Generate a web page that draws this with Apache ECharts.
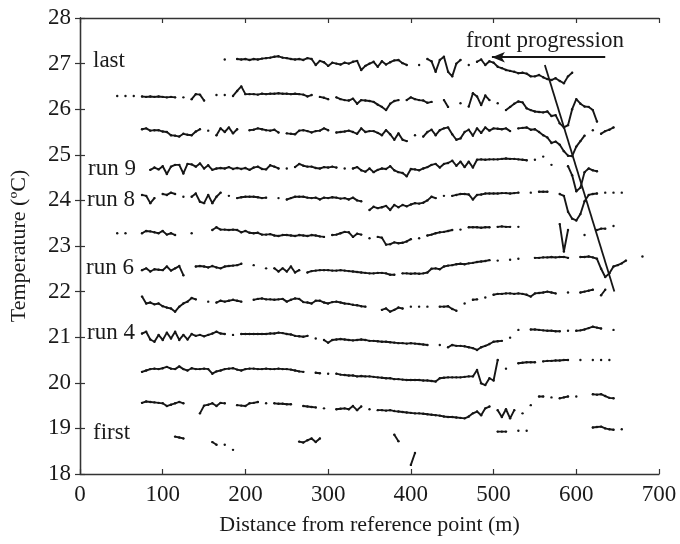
<!DOCTYPE html>
<html>
<head>
<meta charset="utf-8">
<script src="https://cdn.jsdelivr.net/npm/echarts@6/dist/echarts.min.js"></script>
<style>
html,body{margin:0;padding:0;background:#fff;}
#chart{width:680px;height:544px;}
</style>
</head>
<body>
<div id="chart"></div>
<script>
const n = null;
// distance (m) sampling grid
const distance = [40,45,50,55,60,65,70,75,80,85,
90,95,100,105,110,115,120,125,130,135,
140,145,150,155,160,165,170,175,180,185,
190,195,200,205,210,215,220,225,230,235,
240,245,250,255,260,265,270,275,280,285,
290,295,300,305,310,315,320,325,330,335,
340,345,350,355,360,365,370,375,380,385,
390,395,400,405,410,415,420,425,430,435,
440,445,450,455,460,465,470,475,480,485,
490,495,500,505,510,515,520,525,530,535,
540,545,550,555,560,565,570,575,580,585,
590,595,600,605,610,615,620,625,630,635,
640,645,650,655,660,665,670,675,680];

// temperature (°C) of each run, aligned to distance; null = no reading
const run12 = [n,n,n,n,n,n,n,n,n,n,
n,n,n,n,n,n,n,n,n,n,
n,n,n,n,n,n,n,27.09,n,n,
27.10,27.09,27.10,27.08,27.10,27.09,27.11,27.12,27.13,27.15,
27.16,27.13,27.12,27.10,27.09,27.10,27.08,27.12,27.10,26.97,
27.06,27.03,26.95,27.02,27.00,26.98,27.02,27.00,27.04,27.06,
26.86,26.95,27.00,27.04,26.93,27.05,26.98,27.03,27.07,27.08,
27.01,26.97,n,n,26.97,n,27.10,27.05,26.82,27.08,
27.15,26.82,26.72,27.00,27.08,n,26.97,n,27.04,27.09,
26.97,27.05,27.02,26.93,26.90,26.86,26.84,26.82,26.79,26.80,
26.78,26.72,26.72,26.75,26.70,26.66,26.64,26.68,26.62,26.57,
26.72,26.80,n,n,n,n,n,n,n,n,
n,n,n,n,n,n,n,n,n];

const run11 = [n,26.29,n,26.29,n,26.29,n,26.28,26.27,26.28,
26.27,26.28,26.27,26.26,26.27,26.26,n,26.26,n,26.22,
26.33,26.32,26.19,n,n,26.31,n,26.31,n,26.29,
26.40,26.50,26.33,26.33,26.33,26.32,26.34,26.33,26.34,26.34,
26.35,26.34,26.34,26.33,26.34,26.33,26.32,26.28,26.31,n,
26.27,26.25,26.22,n,26.26,26.22,26.20,26.19,26.23,26.12,
26.20,26.19,26.18,26.16,26.10,26.05,25.98,26.12,26.18,26.20,
n,26.20,26.26,26.22,26.20,26.19,26.14,26.16,n,n,
26.20,26.05,n,n,26.13,n,26.06,26.35,26.28,26.09,
26.30,26.20,n,26.13,n,25.98,26.05,26.12,26.17,26.15,
26.02,25.98,25.95,25.94,25.93,25.95,25.85,25.87,25.69,25.60,
25.65,26.00,26.22,26.12,26.06,26.05,25.98,25.73,n,n,
n,n,n,n,n,n,n,n,n];

const run10 = [n,n,n,n,n,n,n,25.56,25.58,25.53,
25.54,25.54,25.51,25.50,25.43,25.42,25.40,25.46,25.44,25.43,
25.51,25.56,n,25.53,n,25.43,25.58,25.50,25.60,25.47,
25.56,n,n,25.54,25.55,25.58,25.56,25.54,25.53,25.55,
25.49,n,25.47,25.46,25.45,25.53,25.54,25.52,25.49,25.52,
25.53,25.58,25.54,n,25.49,25.50,25.51,25.53,25.50,25.46,
25.58,25.50,25.52,25.52,25.48,25.43,25.54,25.45,25.33,25.47,
25.33,25.30,n,25.43,n,25.40,25.50,25.55,25.43,25.54,
25.58,25.60,25.45,25.33,25.36,25.50,25.55,25.42,25.58,25.48,
25.60,25.53,25.58,25.57,25.56,25.58,25.52,n,25.58,25.59,
25.60,25.55,25.56,25.50,25.43,25.38,25.26,25.29,25.22,25.08,
24.98,24.97,25.18,25.30,25.42,n,25.54,n,25.46,25.52,
25.55,25.60,n,n,n,n,n,n,n];

const run9 = [n,n,n,n,n,n,n,n,n,24.67,
24.72,24.68,24.75,24.58,24.74,24.78,24.78,24.59,24.80,24.79,
24.74,24.81,24.70,24.77,24.67,24.70,24.71,24.70,24.73,24.69,
24.71,24.69,24.71,24.67,24.72,24.74,24.69,24.68,24.77,24.74,
24.70,n,24.70,n,24.73,24.80,24.76,24.74,24.74,24.71,
24.70,24.73,24.72,24.74,24.72,n,24.70,n,24.70,24.73,
24.66,24.63,24.70,24.62,24.67,24.70,24.69,24.75,24.66,24.62,
24.60,24.53,24.69,24.68,24.66,24.70,24.73,24.78,24.80,24.72,
24.80,24.82,24.87,24.76,24.85,24.73,24.85,24.72,24.89,24.90,
24.89,24.90,24.90,24.90,24.91,24.92,24.91,24.91,24.90,24.89,
24.88,n,24.89,n,24.96,n,24.78,n,n,n,
24.75,24.55,24.20,24.28,24.62,24.70,24.66,24.64,n,n,
n,n,n,n,n,n,n,n,n];

const run8 = [n,n,n,n,n,n,n,24.12,24.10,23.94,
24.05,n,24.14,24.12,24.17,24.14,n,24.08,n,24.08,
24.15,23.97,23.94,24.12,23.94,24.08,24.17,n,24.10,n,
24.05,24.07,24.08,24.08,24.08,24.07,24.05,24.06,n,n,
24.05,n,24.02,24.05,24.08,24.08,24.08,24.06,24.05,24.06,
24.02,24.06,24.05,24.07,24.06,24.04,24.05,24.02,24.06,24.00,
23.98,n,23.79,23.86,23.83,23.85,23.88,23.79,23.90,23.85,
23.90,23.87,23.91,23.94,23.93,23.95,24.00,24.08,24.05,n,
24.10,n,24.10,24.12,24.14,24.14,24.13,24.02,24.12,24.13,
24.15,24.15,24.15,24.15,24.16,24.16,24.15,24.16,24.17,n,
n,24.17,n,24.19,24.19,24.19,n,n,24.14,24.10,
23.75,23.60,23.56,23.70,23.98,24.12,24.14,24.15,n,24.17,
n,24.17,n,24.17,n,n,n,n,n];

const run7 = [n,23.28,n,23.28,n,n,n,23.28,23.33,23.32,
23.30,23.28,23.33,23.25,23.28,23.24,n,n,n,23.28,
n,n,n,n,23.35,23.41,23.36,23.36,23.35,23.36,
23.35,23.30,23.33,23.29,23.28,23.29,23.25,23.25,23.26,23.23,
23.22,23.24,23.24,23.23,23.22,23.24,23.23,23.22,23.24,23.23,
23.21,23.20,n,23.24,23.25,23.28,23.31,23.30,23.20,23.27,
23.25,n,23.17,n,23.20,23.18,23.03,23.04,23.08,23.06,
23.07,23.10,23.15,n,23.17,n,23.23,23.25,23.28,23.30,
23.31,23.33,23.35,n,23.36,n,23.41,23.41,23.41,23.40,
23.41,23.41,n,23.42,23.43,23.42,23.42,n,23.42,n,
n,n,n,n,n,n,n,n,23.48,22.88,
23.35,n,n,n,23.24,n,n,23.35,23.38,23.38,
n,23.44,n,n,n,n,n,n,n];

const run6 = [n,n,n,n,n,n,n,22.47,22.51,22.44,
22.49,22.48,22.47,22.55,22.46,22.51,22.56,22.36,n,n,
22.55,22.56,22.55,22.53,22.56,22.53,22.51,22.55,22.56,22.57,
22.58,22.61,n,n,22.58,n,n,22.51,n,22.51,
22.44,22.51,22.44,22.55,22.42,22.47,n,22.42,22.45,22.46,
22.47,22.47,22.47,22.46,22.46,22.47,22.46,22.45,22.44,22.43,
22.42,22.41,22.40,22.40,22.41,22.41,22.40,22.37,22.37,n,
22.40,22.40,22.39,22.40,22.39,22.40,22.42,22.50,22.51,22.49,
22.55,22.57,22.58,22.60,22.61,22.60,22.62,22.63,22.65,22.66,
22.67,22.69,n,22.68,n,n,22.70,n,22.72,n,
n,n,22.74,22.74,22.75,22.75,22.76,22.75,22.76,22.76,
22.74,n,n,22.76,22.76,22.77,22.75,22.72,22.50,22.32,
22.40,22.55,22.58,22.62,22.68,n,n,n,22.77];

const run5 = [n,n,n,n,n,n,n,21.89,21.74,21.76,
21.72,21.74,21.68,21.65,21.63,21.56,21.67,21.74,21.78,21.86,
21.83,n,n,21.78,n,21.76,21.80,21.78,21.80,21.82,
21.80,21.78,n,n,21.82,21.84,21.85,21.83,21.83,21.82,
21.83,21.84,21.78,21.82,21.85,21.84,21.77,21.76,21.74,21.80,
21.80,21.76,21.74,21.77,21.78,21.76,21.74,21.73,21.71,21.70,
21.68,21.67,n,n,n,21.60,21.63,21.56,21.60,21.65,
21.63,n,21.67,n,21.67,n,21.67,n,n,21.67,
21.67,21.68,21.62,21.58,n,21.74,n,21.82,21.83,n,
21.87,n,21.93,21.95,21.95,21.96,21.96,21.95,21.96,21.95,
21.93,21.89,21.96,21.97,21.98,22.00,21.98,21.96,n,n,
21.98,n,n,21.98,22.00,22.02,22.04,n,21.92,22.04,
n,n,n,n,n,n,n,n,n];

const run4 = [n,n,n,n,n,n,n,21.08,21.12,20.95,
20.90,21.05,20.94,21.10,20.97,21.12,20.94,21.05,20.95,21.07,
21.03,21.05,21.02,21.05,21.08,21.12,21.08,21.07,n,21.05,
n,21.07,21.07,21.07,21.07,21.07,21.07,21.07,21.08,21.08,
21.10,21.09,21.07,21.06,21.03,21.02,21.01,21.03,n,20.97,
n,20.94,20.88,20.94,20.95,20.96,20.95,20.94,20.93,20.94,
20.95,20.94,20.92,20.92,20.91,20.90,20.90,20.89,20.88,20.87,
20.87,20.86,20.87,20.86,20.85,20.84,20.83,n,n,20.83,
n,20.78,20.83,20.81,20.81,20.80,20.78,20.76,20.72,20.78,
20.81,20.85,20.90,20.91,20.92,n,20.99,n,21.16,n,
n,21.17,21.17,21.16,21.15,21.14,21.14,21.13,21.13,n,
21.14,n,21.14,21.15,21.17,21.20,21.23,21.21,21.19,n,
n,21.16,n,n,n,n,n,n,n];

const run3 = [n,n,n,n,n,n,n,20.24,20.27,20.30,
20.31,20.30,20.32,20.35,20.31,20.30,20.36,20.30,20.27,20.32,
20.30,20.30,20.31,20.30,20.20,20.25,20.27,20.30,20.31,20.32,
20.29,20.27,20.30,20.31,20.31,20.30,20.30,20.31,20.30,20.30,
20.31,20.30,20.30,20.29,20.27,20.25,20.24,n,n,20.22,
20.21,n,20.20,n,20.20,20.18,20.17,20.16,20.16,20.14,
20.15,20.14,20.14,20.13,20.12,20.11,20.10,20.10,20.08,20.08,
20.07,20.06,20.06,20.06,20.06,20.05,20.05,20.04,20.03,20.10,
20.11,20.12,20.12,20.12,20.12,20.13,20.14,20.14,20.28,19.99,
19.95,20.10,20.05,20.50,n,20.31,n,n,20.43,20.44,
20.45,20.45,20.45,n,20.47,20.48,20.48,20.49,20.49,20.50,
20.50,n,n,20.50,n,n,20.50,n,20.50,n,
20.50,n,n,n,n,n,n,n,n];

const run2 = [n,n,n,n,n,n,n,19.56,19.59,19.58,
19.57,19.56,19.55,19.49,19.52,19.55,19.58,19.55,n,n,
n,19.33,19.50,19.52,19.55,19.49,19.56,19.55,n,n,
19.51,19.50,19.49,19.55,19.56,19.58,n,19.55,n,19.55,
19.54,19.54,19.53,19.53,n,n,19.49,19.48,19.47,19.46,
n,19.44,n,n,19.42,19.43,19.44,19.42,19.49,19.40,
19.48,n,19.42,n,19.40,19.40,19.39,19.40,19.38,19.37,
19.36,19.35,19.34,19.33,19.33,19.32,19.31,19.30,19.29,19.28,
19.26,19.25,19.25,19.24,19.23,19.22,19.26,19.33,19.37,19.29,
19.44,19.48,n,19.40,19.25,19.42,19.22,19.40,n,19.33,
n,19.51,n,19.70,19.70,n,19.68,n,19.66,19.68,
19.70,n,19.70,n,n,n,19.75,19.74,19.75,19.71,
19.67,19.66,n,n,n,n,n,n,n];

const run1 = [n,n,n,n,n,n,n,n,n,n,
n,n,n,n,n,18.82,18.80,18.78,n,n,
n,n,n,n,18.70,18.64,n,18.64,n,18.53,
n,n,n,n,n,n,n,n,n,n,
n,n,n,n,n,18.71,18.69,18.74,18.78,18.70,
18.78,n,n,n,n,n,n,n,n,n,
n,n,n,n,n,n,n,n,18.86,18.72,
n,n,18.20,18.46,n,n,n,n,n,n,
n,n,n,n,n,n,n,n,n,n,
n,n,n,18.93,18.93,18.93,n,n,18.95,n,
18.95,n,n,n,n,n,n,n,n,n,
n,n,n,n,n,n,19.02,19.03,19.04,19.00,
18.98,18.97,n,18.98,n,n,n,n,n];

// annotation geometry (data units)
const frontLine = [[562, 26.97], [646, 22.0]];
const arrowLine = [[635, 27.14], [498, 27.14]];

const runs = [run1, run2, run3, run4, run5, run6, run7, run8, run9, run10, run11, run12];
const labels = [
  {text: 'last', x: 93, y: 61},
  {text: 'run 9', x: 88, y: 169},
  {text: 'run 8', x: 87, y: 200},
  {text: 'run 6', x: 86, y: 268},
  {text: 'run 4', x: 87, y: 333},
  {text: 'first', x: 93, y: 433}
];

const INK = '#161616';
const FONT = '"Liberation Serif", "Times New Roman", serif';

const series = runs.map((r, k) => ({
  type: 'line',
  name: 'run' + (k + 1),
  data: distance.map((d, i) => [d, r[i] == null ? '-' : r[i]]),
  connectNulls: false,
  showSymbol: true,
  showAllSymbol: true,
  symbol: 'circle',
  symbolSize: 2.4,
  itemStyle: {color: INK},
  lineStyle: {color: INK, width: 1.9, join: 'round', cap: 'round'},
  silent: true,
  z: 3
}));

series.push({
  type: 'line',
  data: frontLine,
  showSymbol: false,
  lineStyle: {color: INK, width: 1.8},
  silent: true,
  z: 4,
  markLine: {
    silent: true,
    symbol: ['none', 'arrow'],
    symbolSize: [8, 13],
    label: {show: false},
    lineStyle: {color: INK, width: 2, type: 'solid'},
    data: [[{coord: arrowLine[0]}, {coord: arrowLine[1]}]]
  }
});

const axisLine = {show: true, lineStyle: {color: '#333', width: 1.3}};
const axisTick = {show: true, inside: true, length: 5, lineStyle: {color: '#333', width: 1.2}};

const chart = echarts.init(document.getElementById('chart'), null, {renderer: 'canvas'});
chart.setOption({
  animation: false,
  backgroundColor: '#fff',
  grid: {left: 79, right: 21, top: 18, bottom: 70},
  xAxis: [{
    type: 'value', min: 0, max: 700, interval: 100, position: 'bottom',
    axisLine, axisTick,
    splitLine: {show: false},
    axisLabel: {color: '#1a1a1a', fontFamily: FONT, fontSize: 23, margin: 9},
    name: 'Distance from reference point (m)',
    nameLocation: 'middle', nameGap: 40,
    nameTextStyle: {color: '#1a1a1a', fontFamily: FONT, fontSize: 22}
  }, {
    type: 'value', min: 0, max: 700, interval: 100, position: 'top',
    axisLine, axisTick, splitLine: {show: false}, axisLabel: {show: false}
  }],
  yAxis: [{
    type: 'value', min: 18, max: 28, interval: 1, position: 'left',
    axisLine, axisTick,
    splitLine: {show: false},
    axisLabel: {color: '#1a1a1a', fontFamily: FONT, fontSize: 23, margin: 9},
    name: 'Temperature (ºC)',
    nameLocation: 'middle', nameGap: 50,
    nameTextStyle: {color: '#1a1a1a', fontFamily: FONT, fontSize: 22}
  }, {
    type: 'value', min: 18, max: 28, interval: 1, position: 'right',
    axisLine, axisTick, splitLine: {show: false}, axisLabel: {show: false}
  }],
  graphic: labels.map(l => ({
    type: 'text', x: l.x, y: l.y, silent: true,
    style: {text: l.text, font: '23px ' + FONT, fill: '#1a1a1a', verticalAlign: 'middle', align: 'left'}
  })).concat([{
    type: 'text', x: 545, y: 41, silent: true,
    style: {text: 'front progression', font: '23px ' + FONT, fill: '#1a1a1a', verticalAlign: 'middle', align: 'center'}
  }]),
  series
});
</script>
</body>
</html>
